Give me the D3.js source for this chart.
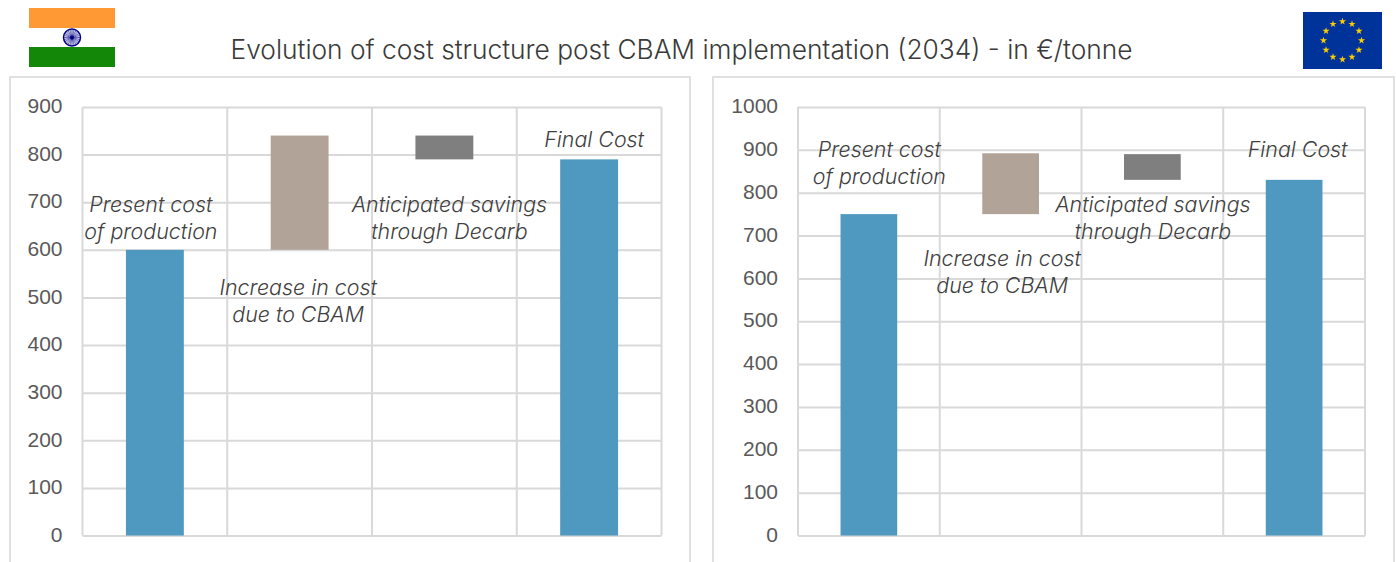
<!DOCTYPE html>
<html>
<head>
<meta charset="utf-8">
<script src="https://cdn.jsdelivr.net/npm/d3@7"></script>
<style>
    html, body { margin: 0; padding: 0; background: #fff; overflow: hidden; }
    svg { display: block; }
    .tick text { font-family: "Liberation Sans", sans-serif; fill: #595959; }
    .note { font-family: "Inter", sans-serif; font-style: italic; font-weight: 300; font-size: 21.4px; fill: #404040; text-anchor: middle; }
</style>
</head>
<body>
<script>
// chart data
var categories = ["Present cost of production", "Increase in cost due to CBAM", "Anticipated savings through Decarb", "Final Cost"];
var titleText = "Evolution of cost structure post CBAM implementation (2034) - in €/tonne";

var indiaStart = [0, 600, 790, 0];
var indiaEnd = [600, 840, 840, 790];
var indiaMax = 900;
var indiaTicks = [0, 100, 200, 300, 400, 500, 600, 700, 800, 900];

var euStart = [0, 750, 830, 0];
var euEnd = [750, 892, 890, 830];
var euMax = 1000;
var euTicks = [0, 100, 200, 300, 400, 500, 600, 700, 800, 900, 1000];

var noteLines = [
    ["Present cost", "of production"],
    ["Increase in cost", "due to CBAM"],
    ["Anticipated savings", "through Decarb"],
    ["Final Cost"]
];
// where each note sits: value of the first line, shift from the bar centre
var indiaNoteValue = [694, 520, 694, 830];
var indiaNoteShift = [-4, -1.5, 5, 5];
var euNoteValue = [899, 646, 771, 899];
var euNoteShift = [10.5, -8.5, 0.5, 3.5];

var barColours = ["#4f98c0", "#b1a398", "#7f7f7f", "#4f98c0"];
var gridColour = "#d9d9d9";

var svg = d3.select("body").append("svg")
    .attr("width", 1396)
    .attr("height", 562);

// title
svg.append("text")
    .attr("x", 681.5)
    .attr("y", 59)
    .attr("text-anchor", "middle")
    .style("font-family", "Inter, sans-serif")
    .style("font-weight", "300")
    .style("font-size", "26.3px")
    .style("fill", "#3a3a3a")
    .text(titleText);

function drawPanel(opts) {
    // outer frame runs off the bottom of the picture
    svg.append("rect")
        .attr("x", opts.frame[0])
        .attr("y", 77)
        .attr("width", opts.frame[1] - opts.frame[0])
        .attr("height", 500)
        .attr("fill", "#fff")
        .attr("stroke", "#e0e0e0")
        .attr("stroke-width", 2);

    var x = d3.scaleBand()
        .domain(categories)
        .range(opts.xRange)
        .paddingInner(0.6)
        .paddingOuter(0.3);

    var y = d3.scaleLinear()
        .domain([0, opts.max])
        .range([535.5, 107]);

    var g = svg.append("g");

    // horizontal grid and tick labels
    var yAxis = d3.axisLeft(y)
        .tickValues(opts.ticks)
        .tickFormat(d3.format("d"))
        .tickSize(opts.xRange[0] - opts.xRange[1])
        .tickPadding(20);
    var axisG = g.append("g")
        .attr("transform", "translate(" + opts.xRange[0] + ",0)")
        .call(yAxis);
    axisG.select(".domain").remove();
    axisG.selectAll("line")
        .attr("stroke", gridColour)
        .attr("stroke-width", 2);
    axisG.selectAll("text")
        .attr("y", -1)
        .style("font-size", "21px");

    // vertical grid at the category edges
    var edges = categories.map(function(d) {
        return x(d) - x.step() * x.paddingInner() / 2;
    });
    edges.push(opts.xRange[1]);
    g.selectAll(".vgrid")
        .data(edges)
        .enter()
        .append("line")
        .attr("class", "vgrid")
        .attr("x1", function(d) { return d; })
        .attr("x2", function(d) { return d; })
        .attr("y1", y(opts.max))
        .attr("y2", y(0))
        .attr("stroke", gridColour)
        .attr("stroke-width", 2);

    // floating bars
    g.selectAll(".bar")
        .data(categories)
        .enter()
        .append("rect")
        .attr("class", "bar")
        .attr("x", function(d) { return x(d); })
        .attr("width", x.bandwidth())
        .attr("y", function(d, i) { return y(opts.end[i]); })
        .attr("height", function(d, i) { return y(opts.start[i]) - y(opts.end[i]); })
        .attr("fill", function(d, i) { return barColours[i]; });

    // italic notes next to the bars
    var notes = g.selectAll(".note")
        .data(categories)
        .enter()
        .append("text")
        .attr("class", "note")
        .attr("transform", function(d, i) {
            return "translate(" + (x(d) + x.bandwidth() / 2 + opts.noteShift[i]) + "," + y(opts.noteValue[i]) + ")";
        });
    notes.selectAll("tspan")
        .data(function(d, i) { return noteLines[i]; })
        .enter()
        .append("tspan")
        .attr("x", 0)
        .attr("y", function(d, j) { return j * 27 + 7; })
        .text(function(d) { return d; });
}

drawPanel({ frame: [10, 690], xRange: [82.5, 661.5], max: indiaMax, ticks: indiaTicks, start: indiaStart, end: indiaEnd, noteValue: indiaNoteValue, noteShift: indiaNoteShift });
drawPanel({ frame: [713, 1394], xRange: [798, 1365], max: euMax, ticks: euTicks, start: euStart, end: euEnd, noteValue: euNoteValue, noteShift: euNoteShift });

// india flag
var india = svg.append("g").attr("transform", "translate(29,8)");
india.append("rect").attr("width", 86).attr("height", 20).attr("fill", "#ff9933");
india.append("rect").attr("y", 20).attr("width", 86).attr("height", 19).attr("fill", "#ffffff");
india.append("rect").attr("y", 39).attr("width", 86).attr("height", 20).attr("fill", "#138808");
india.append("circle").attr("cx", 43).attr("cy", 29.5).attr("r", 8.5).attr("fill", "#d8d8f0").attr("stroke", "#000080").attr("stroke-width", 1.5);
india.selectAll(".spoke")
    .data(d3.range(24))
    .enter()
    .append("line")
    .attr("x1", 43)
    .attr("y1", 29.5)
    .attr("x2", function(d) { return 43 + 8 * Math.cos(d * Math.PI / 12); })
    .attr("y2", function(d) { return 29.5 + 8 * Math.sin(d * Math.PI / 12); })
    .attr("stroke", "#000080")
    .attr("stroke-width", 0.5);
india.append("circle").attr("cx", 43).attr("cy", 29.5).attr("r", 2).attr("fill", "#000080");

// eu flag
var eu = svg.append("g").attr("transform", "translate(1303,12)");
eu.append("rect").attr("width", 79).attr("height", 57).attr("fill", "#003399");
eu.selectAll(".star")
    .data(d3.range(12))
    .enter()
    .append("path")
    .attr("d", d3.symbol().type(d3.symbolStar).size(16))
    .attr("transform", function(d) {
        var a = d * Math.PI / 6;
        return "translate(" + (39.5 + 19 * Math.sin(a)) + "," + (28.5 - 19 * Math.cos(a)) + ")";
    })
    .attr("fill", "#ffcc00");
</script>
</body>
</html>
